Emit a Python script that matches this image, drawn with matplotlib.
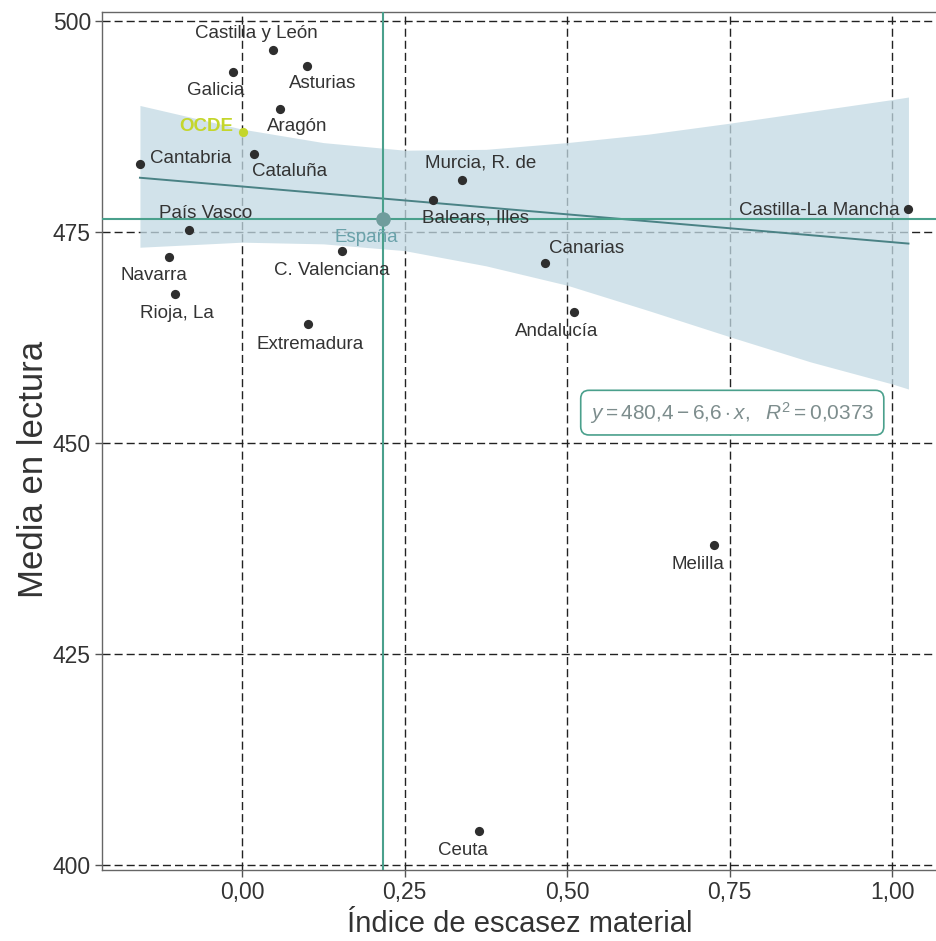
#!/usr/bin/env python3

import matplotlib
matplotlib.use("Agg")
import matplotlib.pyplot as plt
from matplotlib.ticker import FuncFormatter


# Data
regions = ["Castilla y León", "Galicia", "Asturias", "Aragón", "Cataluña",
           "Cantabria", "Murcia, R. de", "Balears, Illes", "Castilla-La Mancha",
           "País Vasco", "Canarias", "C. Valenciana", "Navarra", "Rioja, La",
           "Andalucía", "Extremadura", "Melilla", "Ceuta"]
escasez = [0.047, -0.014, 0.100, 0.058, 0.018,
           -0.157, 0.339, 0.293, 1.025,
           -0.082, 0.466, 0.154, -0.113, -0.103,
           0.510, 0.102, 0.726, 0.365]
lectura = [496.6, 494.0, 494.7, 489.6, 484.3,
           483.1, 481.2, 478.8, 477.7,
           475.2, 471.3, 472.7, 472.0, 467.6,
           465.5, 464.1, 437.9, 404.0]

ocde_x, ocde_y = 0.002, 486.8
espana_x, espana_y = 0.217, 476.5

# regression y = a + b x
intercept = 480.4
slope = -6.6
fit_range = [-0.157, 1.025]

# confidence band edges
band_x = [-0.157, 0.0, 0.125, 0.25, 0.375, 0.5, 0.625, 0.75, 0.875, 1.0, 1.025]
band_hi = [490.0, 487.2, 485.6, 484.7, 484.8, 485.6, 486.6, 487.9, 489.3, 490.7, 491.0]
band_lo = [473.2, 473.8, 473.6, 472.8, 471.0, 468.7, 465.7, 462.6, 459.6, 457.0, 456.4]

x_ticks = [0.0, 0.25, 0.5, 0.75, 1.0]
y_ticks = [400, 425, 450, 475, 500]

# label offsets in pixels (dx, dy, ha)
label_offsets = {
    "Castilla y León": (-16, 16, "center"),
    "Galicia": (-17, -19, "center"),
    "Asturias": (16, -18, "center"),
    "Aragón": (17, -18, "center"),
    "Cataluña": (36, -18, "center"),
    "Cantabria": (10, 5, "left"),
    "Murcia, R. de": (18, 17, "center"),
    "Balears, Illes": (43, -18, "center"),
    "Castilla-La Mancha": (-9, -1, "right"),
    "País Vasco": (17, 17, "center"),
    "Canarias": (42, 15, "center"),
    "C. Valenciana": (-10, -19, "center"),
    "Navarra": (-15, -18, "center"),
    "Rioja, La": (2, -19, "center"),
    "Andalucía": (-17, -19, "center"),
    "Extremadura": (2, -20, "center"),
    "Melilla": (-16, -19, "center"),
    "Ceuta": (-16, -19, "center"),
}

TEXT = "#333333"
TEAL = "#4aa08c"


def comma(v, _pos=None, fmt="{:.2f}"):
    return fmt.format(v).replace(".", ",")


def main() -> None:
    plt.rcParams["font.family"] = ["Liberation Sans", "DejaVu Sans"]
    plt.rcParams["mathtext.fontset"] = "custom"
    plt.rcParams["mathtext.rm"] = "Liberation Sans"
    plt.rcParams["mathtext.it"] = "Liberation Sans:italic"

    fig = plt.figure(figsize=(9.37, 9.41), dpi=100)
    ax = fig.add_axes([0.1089, 0.0755, 0.8911, 0.9117])

    # grid
    ax.set_axisbelow(True)
    ax.grid(True, color="#222222", linewidth=1.0, linestyle=(0, (5.8, 2.9)))

    # confidence band + regression line
    ax.fill_between(band_x, band_lo, band_hi, color="#c2d9e3", alpha=0.75,
                    linewidth=0, zorder=2)
    fit_y = [intercept + slope * v for v in fit_range]
    ax.plot(fit_range, fit_y, color="#4a8285", linewidth=1.4, zorder=3)

    # mean lines (España)
    ax.axhline(espana_y, color=TEAL, linewidth=1.5, zorder=3)
    ax.axvline(espana_x, color=TEAL, linewidth=1.5, zorder=3)

    # points
    ax.scatter(escasez, lectura, s=44, color="#2e2e2e", zorder=5, linewidths=0)
    ax.scatter([ocde_x], [ocde_y], s=44, color="#c4d62c", zorder=5, linewidths=0)
    ax.scatter([espana_x], [espana_y], s=110, color="#6f9c9c", zorder=5, linewidths=0)

    for name, xv, yv in zip(regions, escasez, lectura):
        dx, dy, ha = label_offsets[name]
        ax.annotate(name, (xv, yv), xytext=(dx, dy), textcoords="offset pixels",
                    ha=ha, va="center", fontsize=13.5, color=TEXT, zorder=6)
    ax.annotate("OCDE", (ocde_x, ocde_y), xytext=(-10, 6), textcoords="offset pixels",
                ha="right", va="center", fontsize=13.5, color="#c4d62c",
                fontweight="bold", zorder=6)
    ax.annotate("España", (espana_x, espana_y), xytext=(-17, -18),
                textcoords="offset pixels", ha="center", va="center",
                fontsize=13.5, color="#6aa2aa", zorder=6)

    # equation box
    ax.text(0.754, 453.6,
            r"$y = 480{,}4 - 6{,}6 \cdot x,\ \ R^2 = 0{,}0373$",
            ha="center", va="center", fontsize=15, color="#7d8d8d", zorder=7,
            bbox=dict(boxstyle="round,pad=0.45,rounding_size=0.4",
                      facecolor="white", edgecolor=TEAL, linewidth=1.2))

    ax.set_xlim(-0.2153, 1.0689)
    ax.set_ylim(399.41, 501.07)
    ax.set_xticks(x_ticks)
    ax.set_yticks(y_ticks)
    ax.xaxis.set_major_formatter(FuncFormatter(comma))
    ax.yaxis.set_major_formatter(FuncFormatter(lambda v, p: f"{v:.0f}"))

    ax.tick_params(direction="out", length=5, width=1, color="#555555",
                   labelsize=16.5, labelcolor=TEXT, pad=3)
    for side in ["left", "bottom", "top"]:
        ax.spines[side].set_color("#666666")
        ax.spines[side].set_linewidth(1)
    ax.spines["right"].set_visible(False)

    ax.set_xlabel("Índice de escasez material", fontsize=21, color=TEXT, labelpad=4)
    ax.set_ylabel("Media en lectura", fontsize=25, color=TEXT)
    ax.yaxis.set_label_coords(-0.062, 0.467)

    fig.savefig("out.png", dpi=100)
    plt.close(fig)


if __name__ == "__main__":
    main()
